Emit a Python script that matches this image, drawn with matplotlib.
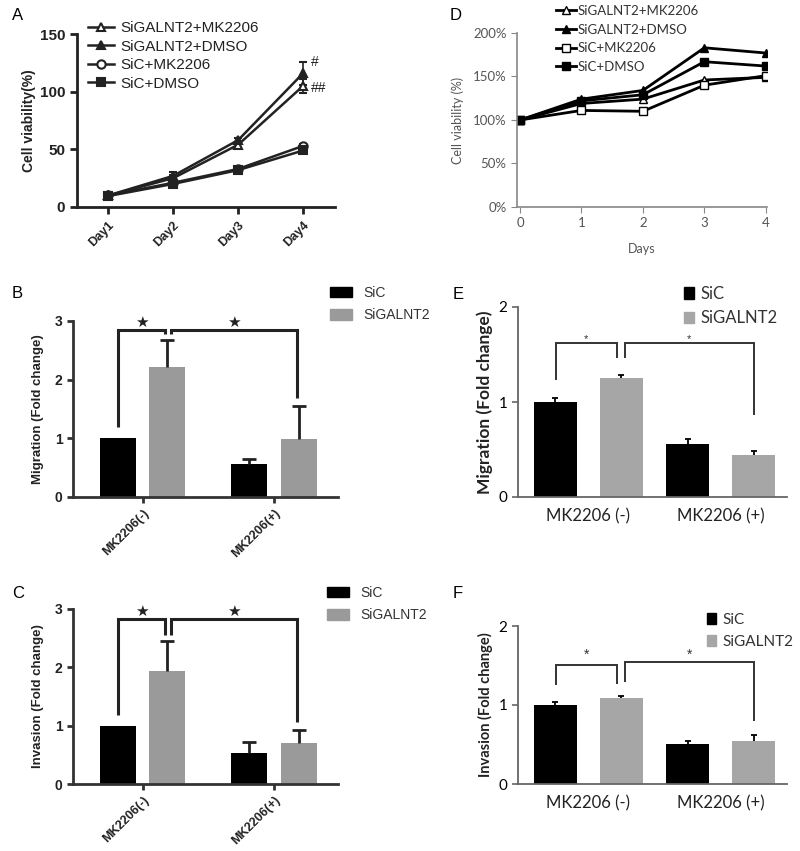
import numpy as np
import matplotlib
matplotlib.use('Agg')
import matplotlib.pyplot as plt
from matplotlib.lines import Line2D
from matplotlib.patches import Patch
from matplotlib.ticker import PercentFormatter

plt.rcParams['font.family'] = ['Liberation Sans', 'DejaVu Sans']

#dades panell A (viabilitat, Prism)
dies_a = ['Day1', 'Day2', 'Day3', 'Day4']
series = ['SiGALNT2+MK2206', 'SiGALNT2+DMSO', 'SiC+MK2206', 'SiC+DMSO']
a_galnt2_mk = [10, 25, 54, 105]
a_galnt2_dmso = [10, 27, 58, 116]
a_sic_mk = [10, 21, 33, 53]
a_sic_dmso = [9.5, 20, 32, 49]
a_err_galnt2_mk = [1, 3, 2, 6]
a_err_galnt2_dmso = [1, 3, 2, 10]
a_err_sic_mk = [1, 2, 2, 2]
a_err_sic_dmso = [1, 2, 2, 2]
a_signes = ['#', '##']

#dades panell D (viabilitat, Excel)
dies_d = [0, 1, 2, 3, 4]
d_galnt2_mk = [100, 119, 124, 146, 149]
d_galnt2_dmso = [100, 124, 134, 183, 177]
d_sic_mk = [100, 111, 110, 140, 151]
d_sic_dmso = [100, 122, 129, 167, 162]

#dades migracio / invasio
grups_bc = ['MK2206(-)', 'MK2206(+)']
grups_ef = ['MK2206 (-)', 'MK2206 (+)']
grups_nom = ['SiC', 'SiGALNT2']

b_sic = [1.0, 0.57]
b_sic_err = [0.0, 0.08]
b_galnt2 = [2.22, 0.99]
b_galnt2_err = [0.46, 0.56]
b_claus = [[1.19, 2.84, 2.78], [2.78, 2.84, 1.68]]
b_estrella = 2.97

c_sic = [1.0, 0.53]
c_sic_err = [0.0, 0.19]
c_galnt2 = [1.93, 0.70]
c_galnt2_err = [0.53, 0.22]
c_claus = [[1.18, 2.83, 2.56], [2.56, 2.83, 1.07]]
c_estrella = 2.96

e_sic = [1.0, 0.56]
e_sic_err = [0.04, 0.05]
e_galnt2 = [1.25, 0.445]
e_galnt2_err = [0.03, 0.04]
e_claus = [[1.23, 1.62, 1.46], [1.46, 1.62, 0.86]]
e_estrella = 1.66

f_sic = [1.0, 0.505]
f_sic_err = [0.04, 0.04]
f_galnt2 = [1.09, 0.545]
f_galnt2_err = [0.03, 0.075]
f_claus = [[1.25, 1.51, 1.26], [1.29, 1.55, 0.80]]
f_estrella = 1.63

W, H = 800, 851
fig = plt.figure(figsize=(W / 100, H / 100), dpi=100)


def rect(l, t, r, b):
    return [l / W, 1 - b / H, (r - l) / W, (b - t) / H]


def fpos(x, y):
    return (x / W, 1 - y / H)


FOSC = '#222222'
GRIS_PRISM = '#9a9a9a'
GRIS_EXCEL = '#a6a6a6'

#panell A
axA = fig.add_axes(rect(77, 34, 335, 207))
xa = np.arange(len(dies_a))
estil_a = [('^', 'white'), ('^', FOSC), ('o', 'white'), ('s', FOSC)]
vals_a = [a_galnt2_mk, a_galnt2_dmso, a_sic_mk, a_sic_dmso]
errs_a = [a_err_galnt2_mk, a_err_galnt2_dmso, a_err_sic_mk, a_err_sic_dmso]
for (m, fc), v, e in zip(estil_a, vals_a, errs_a):
    axA.errorbar(xa, v, yerr=e, color=FOSC, lw=1.8, marker=m, ms=6, mfc=fc,
                 mec=FOSC, mew=1.5, capsize=3, elinewidth=1.2)
axA.text(xa[-1] + 0.12, a_galnt2_dmso[-1] + 6, a_signes[0], fontsize=10, color=FOSC)
axA.text(xa[-1] + 0.12, a_galnt2_mk[-1] - 5, a_signes[1], fontsize=10, color=FOSC)
axA.set_xlim(-0.48, 3.49)
axA.set_ylim(0, 150)
axA.set_yticks([0, 50, 100, 150])
axA.set_xticks(xa)
axA.set_xticklabels(dies_a, rotation=45, ha='right', rotation_mode='anchor',
                    fontweight='bold', fontsize=9)
for lab in axA.get_yticklabels():
    lab.set_fontweight('bold')
    lab.set_fontsize(11)
axA.set_ylabel('Cell viability(%)', fontweight='bold', fontsize=10, labelpad=3, color=FOSC)
for s in ['top', 'right']:
    axA.spines[s].set_visible(False)
for s in ['left', 'bottom']:
    axA.spines[s].set_linewidth(2)
    axA.spines[s].set_color(FOSC)
axA.tick_params(width=2, length=5, color=FOSC, labelcolor=FOSC)
hA = [Line2D([], [], color=FOSC, lw=1.8, marker=m, ms=6, mfc=fc, mec=FOSC, mew=1.5)
      for m, fc in estil_a]
axA.legend(hA, series, loc='upper left', bbox_to_anchor=fpos(88, 21),
           bbox_transform=fig.transFigure, frameon=False, fontsize=11,
           handlelength=1.7, handletextpad=0.4, labelspacing=0.3,
           borderpad=0, borderaxespad=0, labelcolor=FOSC)
fig.text(*fpos(12, 15), 'A', fontsize=12, va='center', ha='left')

#panell D
GRIS_TXT = '#555555'
axD = fig.add_axes(rect(517, 33, 767, 207))
estil_d = [('^', 'white'), ('^', 'black'), ('s', 'white'), ('s', 'black')]
vals_d = [d_galnt2_mk, d_galnt2_dmso, d_sic_mk, d_sic_dmso]
for (m, fc), v in zip(estil_d, vals_d):
    axD.plot(dies_d, v, color='black', lw=2, marker=m, ms=6, mfc=fc, mec='black', mew=1)
axD.set_xlim(-0.05, 4.02)
axD.set_ylim(0, 200)
axD.set_yticks(np.arange(0, 201, 50))
axD.yaxis.set_major_formatter(PercentFormatter(decimals=0))
axD.set_xticks(dies_d)
for s in ['top', 'right']:
    axD.spines[s].set_visible(False)
for s in ['left', 'bottom']:
    axD.spines[s].set_color('#888888')
    axD.spines[s].set_linewidth(1.2)
axD.tick_params(length=4, color='#888888', labelcolor=GRIS_TXT, labelsize=9.5)
for lab in axD.get_xticklabels() + axD.get_yticklabels():
    lab.set_family(['Lato', 'DejaVu Sans'])
axD.set_xlabel('Days', fontsize=9, color=GRIS_TXT, family=['Lato', 'DejaVu Sans'], labelpad=10)
axD.set_ylabel('Cell viability (%)', fontsize=9, color=GRIS_TXT, family=['Lato', 'DejaVu Sans'], labelpad=6)
hD = [Line2D([], [], color='black', lw=2, marker=m, ms=6, mfc=fc, mec='black', mew=1)
      for m, fc in estil_d]
axD.legend(hD, series, loc='upper left', bbox_to_anchor=fpos(556, 5),
           bbox_transform=fig.transFigure, frameon=False,
           prop={'family': ['Lato', 'DejaVu Sans'], 'size': 9.5},
           handlelength=1.5, handletextpad=0.1, labelspacing=0.5,
           borderpad=0, borderaxespad=0, labelcolor='#333333')
fig.text(*fpos(450, 15), 'D', fontsize=12, va='center', ha='left')


def claus(ax, xs, ys, lw, color):
    ax.plot([xs[0], xs[0], xs[1], xs[1]], [ys[0], ys[1], ys[1], ys[2]],
            color=color, lw=lw, solid_capstyle='butt', solid_joinstyle='miter')


def error_amunt(ax, x, v, err, color, lw, cap):
    #nomes la meitat superior de la barra d'error, sense error zero
    err = np.asarray(err, dtype=float)
    v = np.asarray(v, dtype=float)
    ok = err > 0
    cont = ax.errorbar(np.asarray(x)[ok], v[ok], yerr=[np.zeros(ok.sum()), err[ok]], fmt='none',
                       ecolor=color, elinewidth=lw, capsize=cap, capthick=lw)
    cont.lines[1][0].set_visible(False)


#panells B i C (Prism)
def panell_prism(caixa, sic, sic_err, gal, gal_err, claus_y, est_y, ylabel, lletra, pos_lletra, pos_llegenda):
    ax = fig.add_axes(rect(*caixa))
    x = np.arange(len(grups_bc))
    off, amp = 0.19, 0.275
    ax.bar(x - off, sic, amp, color='black')
    ax.bar(x + off, gal, amp, color=GRIS_PRISM)
    error_amunt(ax, x - off, sic, sic_err, FOSC, 2, 5)
    error_amunt(ax, x + off, gal, gal_err, FOSC, 2, 5)
    trams = [(x[0] - off, x[0] + off - 0.015), (x[0] + off + 0.025, x[1] + off - 0.01)]
    for (x0, x1), ys in zip(trams, claus_y):
        claus(ax, (x0, x1), ys, 2.2, FOSC)
        ax.text((x0 + x1) / 2, est_y, '★', ha='center', va='center', fontsize=11,
                color=FOSC, family=['DejaVu Sans'])
    ax.set_xlim(-0.53, 1.49)
    ax.set_ylim(0, 3)
    ax.set_yticks([0, 1, 2, 3])
    ax.set_xticks(x)
    ax.set_xticklabels(grups_bc, rotation=45, ha='right', rotation_mode='anchor',
                       fontweight='bold', fontsize=9)
    for lab in ax.get_yticklabels():
        lab.set_fontweight('bold')
        lab.set_fontsize(10)
    ax.set_ylabel(ylabel, fontweight='bold', fontsize=9.5, color=FOSC, labelpad=8)
    for s in ['top', 'right']:
        ax.spines[s].set_visible(False)
    for s in ['left', 'bottom']:
        ax.spines[s].set_linewidth(2)
        ax.spines[s].set_color('#333333')
    ax.tick_params(width=2, length=4, color='#333333', labelcolor=FOSC)
    h = [Patch(color='black'), Patch(color=GRIS_PRISM)]
    ax.legend(h, grups_nom, loc='upper left', bbox_to_anchor=fpos(*pos_llegenda),
              bbox_transform=fig.transFigure, frameon=False, fontsize=10,
              handlelength=1.6, handleheight=0.75, handletextpad=0.8, labelspacing=0.6,
              borderpad=0, borderaxespad=0, labelcolor='#333333')
    fig.text(*fpos(*pos_lletra), lletra, fontsize=12, va='center', ha='left')


panell_prism((73, 321, 338, 497), b_sic, b_sic_err, b_galnt2, b_galnt2_err, b_claus, b_estrella,
             'Migration (Fold change)', 'B', (12, 293), (330, 286))
panell_prism((73, 609, 338, 784), c_sic, c_sic_err, c_galnt2, c_galnt2_err, c_claus, c_estrella,
             'Invasion (Fold change)', 'C', (12, 593), (327, 586))


#panells E i F (Excel)
def panell_excel(caixa, sic, sic_err, gal, gal_err, claus_y, est_y, ylabel, ylsize, lletra, pos_lletra,
                 pos_llegenda, llsize, estsize):
    ax = fig.add_axes(rect(*caixa))
    x = np.arange(len(grups_ef))
    off, amp = 0.25, 0.325
    ax.bar(x - off, sic, amp, color='black')
    ax.bar(x + off, gal, amp, color=GRIS_EXCEL)
    error_amunt(ax, x - off, sic, sic_err, 'black', 1.3, 2.5)
    error_amunt(ax, x + off, gal, gal_err, 'black', 1.3, 2.5)
    trams = [(x[0] - off + 0.005, x[0] + off - 0.035), (x[0] + off + 0.025, x[1] + off)]
    for (x0, x1), ys in zip(trams, claus_y):
        claus(ax, (x0, x1), ys, 1.4, '#333333')
        ax.text((x0 + x1) / 2, est_y, '*', ha='center', va='center', fontsize=estsize, color='#333333')
    ax.set_xlim(-0.53, 1.5)
    ax.set_ylim(0, 2)
    ax.set_yticks([0, 1, 2])
    ax.set_xticks(x)
    ax.set_xticklabels(grups_ef, fontsize=12, family=['Lato', 'DejaVu Sans'], color='#222222')
    for lab in ax.get_yticklabels():
        lab.set_family(['Lato', 'DejaVu Sans'])
        lab.set_fontsize(11)
    ax.tick_params(axis='x', length=0, pad=8)
    ax.tick_params(axis='y', length=4, color='#666666', width=1.2)
    ax.set_ylabel(ylabel, fontweight='bold', fontsize=ylsize, family=['Lato', 'DejaVu Sans'],
                  color='#222222', labelpad=4)
    for s in ['top', 'right']:
        ax.spines[s].set_visible(False)
    for s in ['left', 'bottom']:
        ax.spines[s].set_linewidth(1.3)
        ax.spines[s].set_color('#666666')
    h = [Patch(color='black'), Patch(color=GRIS_EXCEL)]
    ax.legend(h, grups_nom, loc='upper left', bbox_to_anchor=fpos(*pos_llegenda),
              bbox_transform=fig.transFigure, frameon=False,
              prop={'family': ['Lato', 'DejaVu Sans'], 'size': llsize},
              handlelength=0.6, handleheight=0.7, handletextpad=0.4, labelspacing=0.5,
              borderpad=0, borderaxespad=0, labelcolor='#333333')
    fig.text(*fpos(*pos_lletra), lletra, fontsize=12, va='center', ha='left')


panell_excel((518, 307, 787, 497), e_sic, e_sic_err, e_galnt2, e_galnt2_err, e_claus, e_estrella,
             'Migration (Fold change)', 12.5, 'E', (453, 295), (684, 286), 12, 8)
panell_excel((518, 626, 787, 784), f_sic, f_sic_err, f_galnt2, f_galnt2_err, f_claus, f_estrella,
             'Invasion (Fold change)', 10.5, 'F', (453, 593), (707, 613), 11, 10)

fig.savefig('out.png', dpi=100)
